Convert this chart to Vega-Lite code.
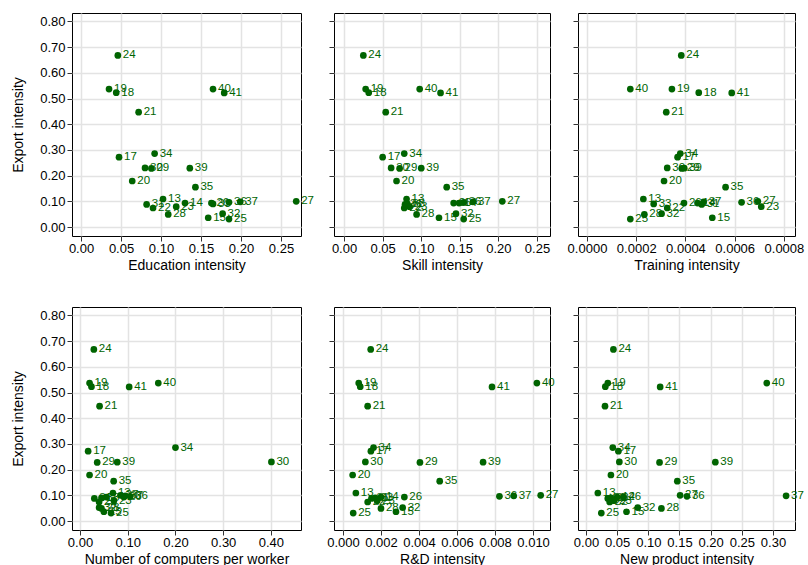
{
  "$schema": "https://vega.github.io/schema/vega-lite/v6.json",
  "background": "white",
  "padding": {"left": 11, "top": 12, "right": 0, "bottom": 0},
  "bounds": "full",
  "spacing": 33,
  "datasets": {
    "ind": [
      {"ind": "24", "exp": 0.668, "edu": 0.046, "skill": 0.025, "train": 0.000383, "comp": 0.029, "rd": 0.00146, "newp": 0.044},
      {"ind": "19", "exp": 0.537, "edu": 0.035, "skill": 0.028, "train": 0.000345, "comp": 0.020, "rd": 0.00083, "newp": 0.035},
      {"ind": "18", "exp": 0.523, "edu": 0.044, "skill": 0.032, "train": 0.000454, "comp": 0.024, "rd": 0.00091, "newp": 0.031},
      {"ind": "40", "exp": 0.537, "edu": 0.165, "skill": 0.098, "train": 0.000176, "comp": 0.164, "rd": 0.0102, "newp": 0.290},
      {"ind": "41", "exp": 0.522, "edu": 0.179, "skill": 0.125, "train": 0.000588, "comp": 0.103, "rd": 0.00784, "newp": 0.119},
      {"ind": "21", "exp": 0.447, "edu": 0.072, "skill": 0.054, "train": 0.000322, "comp": 0.041, "rd": 0.0013, "newp": 0.0305},
      {"ind": "34", "exp": 0.286, "edu": 0.092, "skill": 0.078, "train": 0.000379, "comp": 0.200, "rd": 0.00161, "newp": 0.043},
      {"ind": "17", "exp": 0.272, "edu": 0.0475, "skill": 0.050, "train": 0.000368, "comp": 0.017, "rd": 0.00147, "newp": 0.052},
      {"ind": "30", "exp": 0.230, "edu": 0.080, "skill": 0.061, "train": 0.000326, "comp": 0.401, "rd": 0.00118, "newp": 0.0535},
      {"ind": "29", "exp": 0.228, "edu": 0.088, "skill": 0.072, "train": 0.000385, "comp": 0.036, "rd": 0.00405, "newp": 0.118},
      {"ind": "39", "exp": 0.229, "edu": 0.136, "skill": 0.100, "train": 0.000395, "comp": 0.078, "rd": 0.00737, "newp": 0.2075},
      {"ind": "20", "exp": 0.179, "edu": 0.064, "skill": 0.068, "train": 0.000313, "comp": 0.020, "rd": 0.00051, "newp": 0.040},
      {"ind": "35", "exp": 0.155, "edu": 0.143, "skill": 0.133, "train": 0.000563, "comp": 0.0705, "rd": 0.00509, "newp": 0.1465},
      {"ind": "13", "exp": 0.109, "edu": 0.1025, "skill": 0.081, "train": 0.000229, "comp": 0.069, "rd": 0.00068, "newp": 0.019},
      {"ind": "27", "exp": 0.100, "edu": 0.269, "skill": 0.205, "train": 0.000694, "comp": 0.085, "rd": 0.0104, "newp": 0.151},
      {"ind": "37", "exp": 0.098, "edu": 0.199, "skill": 0.167, "train": 0.000474, "comp": 0.095, "rd": 0.00898, "newp": 0.321},
      {"ind": "36", "exp": 0.096, "edu": 0.185, "skill": 0.155, "train": 0.000628, "comp": 0.105, "rd": 0.00823, "newp": 0.162},
      {"ind": "14", "exp": 0.093, "edu": 0.130, "skill": 0.149, "train": 0.000449, "comp": 0.055, "rd": 0.0020, "newp": 0.050},
      {"ind": "26", "exp": 0.093, "edu": 0.163, "skill": 0.142, "train": 0.000394, "comp": 0.092, "rd": 0.00323, "newp": 0.060},
      {"ind": "33", "exp": 0.090, "edu": 0.165, "skill": 0.082, "train": 0.000271, "comp": 0.045, "rd": 0.0017, "newp": 0.040},
      {"ind": "31", "exp": 0.088, "edu": 0.082, "skill": 0.079, "train": 0.000466, "comp": 0.030, "rd": 0.0015, "newp": 0.035},
      {"ind": "23", "exp": 0.079, "edu": 0.119, "skill": 0.085, "train": 0.000708, "comp": 0.071, "rd": 0.0018, "newp": 0.045},
      {"ind": "22", "exp": 0.074, "edu": 0.090, "skill": 0.078, "train": 0.000326, "comp": 0.040, "rd": 0.0013, "newp": 0.038},
      {"ind": "32", "exp": 0.052, "edu": 0.177, "skill": 0.145, "train": 0.000303, "comp": 0.040, "rd": 0.00314, "newp": 0.083},
      {"ind": "28", "exp": 0.049, "edu": 0.109, "skill": 0.094, "train": 0.000233, "comp": 0.045, "rd": 0.0020, "newp": 0.121},
      {"ind": "15", "exp": 0.036, "edu": 0.159, "skill": 0.123, "train": 0.000509, "comp": 0.050, "rd": 0.00279, "newp": 0.065},
      {"ind": "25", "exp": 0.031, "edu": 0.185, "skill": 0.155, "train": 0.000176, "comp": 0.065, "rd": 0.00054, "newp": 0.0246}
    ]
  },
  "vconcat": [
    {
      "bounds": "flush",
      "spacing": 33,
      "hconcat": [
        {
          "width": 229, "height": 223,
          "data": {"name": "ind"},
          "encoding": {
            "x": {"field": "edu", "type": "quantitative", "scale": {"domain": [-0.0113, 0.275], "nice": false, "zero": false},
                  "axis": {"values": [0, 0.05, 0.1, 0.15, 0.2, 0.25], "format": ".2f", "title": "Education intensity"}},
            "y": {"field": "exp", "type": "quantitative", "scale": {"domain": [-0.035, 0.833], "nice": false, "zero": false},
                  "axis": {"values": [0, 0.1, 0.2, 0.3, 0.4, 0.5, 0.6, 0.7, 0.8], "format": ".2f", "title": "Export intensity"}}
          },
          "layer": [
            {"mark": {"type": "point", "filled": true, "size": 45, "color": "#006400", "opacity": 1}},
            {"mark": {"type": "text", "align": "left", "baseline": "middle", "dx": 5, "fontSize": 11.5, "color": "#006400"}, "encoding": {"text": {"field": "ind"}}}
          ]
        },
        {
          "bounds": "flush",
          "spacing": 28,
          "hconcat": [
            {
              "width": 216, "height": 223,
              "data": {"name": "ind"},
              "encoding": {
                "x": {"field": "skill", "type": "quantitative", "scale": {"domain": [-0.013, 0.2668], "nice": false, "zero": false},
                      "axis": {"values": [0, 0.05, 0.1, 0.15, 0.2, 0.25], "format": ".2f", "title": "Skill intensity"}},
                "y": {"field": "exp", "type": "quantitative", "scale": {"domain": [-0.035, 0.833], "nice": false, "zero": false},
                      "axis": {"values": [0, 0.1, 0.2, 0.3, 0.4, 0.5, 0.6, 0.7, 0.8], "labels": false, "title": null}}
              },
              "layer": [
                {"mark": {"type": "point", "filled": true, "size": 45, "color": "#006400", "opacity": 1}},
                {"mark": {"type": "text", "align": "left", "baseline": "middle", "dx": 5, "fontSize": 11.5, "color": "#006400"}, "encoding": {"text": {"field": "ind"}}}
              ]
            },
            {
              "width": 217, "height": 223,
              "data": {"name": "ind"},
              "encoding": {
                "x": {"field": "train", "type": "quantitative", "scale": {"domain": [-0.0000365, 0.000845], "nice": false, "zero": false},
                      "axis": {"values": [0, 0.0002, 0.0004, 0.0006, 0.0008], "format": ".4f", "title": "Training intensity"}},
                "y": {"field": "exp", "type": "quantitative", "scale": {"domain": [-0.035, 0.833], "nice": false, "zero": false},
                      "axis": {"values": [0, 0.1, 0.2, 0.3, 0.4, 0.5, 0.6, 0.7, 0.8], "labels": false, "title": null}}
              },
              "layer": [
                {"mark": {"type": "point", "filled": true, "size": 45, "color": "#006400", "opacity": 1}},
                {"mark": {"type": "text", "align": "left", "baseline": "middle", "dx": 5, "fontSize": 11.5, "color": "#006400"}, "encoding": {"text": {"field": "ind"}}}
              ]
            }
          ]
        }
      ]
    },
    {
      "bounds": "flush",
      "spacing": 33,
      "hconcat": [
        {
          "width": 229, "height": 223,
          "data": {"name": "ind"},
          "encoding": {
            "x": {"field": "comp", "type": "quantitative", "scale": {"domain": [-0.0168, 0.463], "nice": false, "zero": false},
                  "axis": {"values": [0, 0.1, 0.2, 0.3, 0.4], "format": ".2f", "title": "Number of computers per worker"}},
            "y": {"field": "exp", "type": "quantitative", "scale": {"domain": [-0.035, 0.833], "nice": false, "zero": false},
                  "axis": {"values": [0, 0.1, 0.2, 0.3, 0.4, 0.5, 0.6, 0.7, 0.8], "format": ".2f", "title": "Export intensity"}}
          },
          "layer": [
            {"mark": {"type": "point", "filled": true, "size": 45, "color": "#006400", "opacity": 1}},
            {"mark": {"type": "text", "align": "left", "baseline": "middle", "dx": 5, "fontSize": 11.5, "color": "#006400"}, "encoding": {"text": {"field": "ind"}}}
          ]
        },
        {
          "bounds": "flush",
          "spacing": 28,
          "hconcat": [
            {
              "width": 216, "height": 223,
              "data": {"name": "ind"},
              "encoding": {
                "x": {"field": "rd", "type": "quantitative", "scale": {"domain": [-0.00047, 0.01089], "nice": false, "zero": false},
                      "axis": {"values": [0, 0.002, 0.004, 0.006, 0.008, 0.01], "format": ".3f", "title": "R&D intensity"}},
                "y": {"field": "exp", "type": "quantitative", "scale": {"domain": [-0.035, 0.833], "nice": false, "zero": false},
                      "axis": {"values": [0, 0.1, 0.2, 0.3, 0.4, 0.5, 0.6, 0.7, 0.8], "labels": false, "title": null}}
              },
              "layer": [
                {"mark": {"type": "point", "filled": true, "size": 45, "color": "#006400", "opacity": 1}},
                {"mark": {"type": "text", "align": "left", "baseline": "middle", "dx": 5, "fontSize": 11.5, "color": "#006400"}, "encoding": {"text": {"field": "ind"}}}
              ]
            },
            {
              "width": 217, "height": 223,
              "data": {"name": "ind"},
              "encoding": {
                "x": {"field": "newp", "type": "quantitative", "scale": {"domain": [-0.0128, 0.3353], "nice": false, "zero": false},
                      "axis": {"values": [0, 0.05, 0.1, 0.15, 0.2, 0.25, 0.3], "format": ".2f", "title": "New product intensity"}},
                "y": {"field": "exp", "type": "quantitative", "scale": {"domain": [-0.035, 0.833], "nice": false, "zero": false},
                      "axis": {"values": [0, 0.1, 0.2, 0.3, 0.4, 0.5, 0.6, 0.7, 0.8], "labels": false, "title": null}}
              },
              "layer": [
                {"mark": {"type": "point", "filled": true, "size": 45, "color": "#006400", "opacity": 1}},
                {"mark": {"type": "text", "align": "left", "baseline": "middle", "dx": 5, "fontSize": 11.5, "color": "#006400"}, "encoding": {"text": {"field": "ind"}}}
              ]
            }
          ]
        }
      ]
    }
  ],
  "config": {
    "font": "Liberation Sans",
    "view": {"stroke": "#000000", "strokeWidth": 1},
    "axis": {
      "domain": false,
      "grid": true,
      "gridColor": "#e3e3e3",
      "gridWidth": 1.5,
      "ticks": true,
      "tickColor": "#333333",
      "tickSize": 5,
      "labelFont": "Liberation Sans",
      "labelFontSize": 13,
      "labelColor": "#000000",
      "labelPadding": 1,
      "titleFont": "Liberation Sans",
      "titleFontSize": 14,
      "titleFontWeight": "normal",
      "titleColor": "#000000",
      "titlePadding": 3
    },
    "axisY": {"labelPadding": 2, "titlePadding": 14}
  }
}
